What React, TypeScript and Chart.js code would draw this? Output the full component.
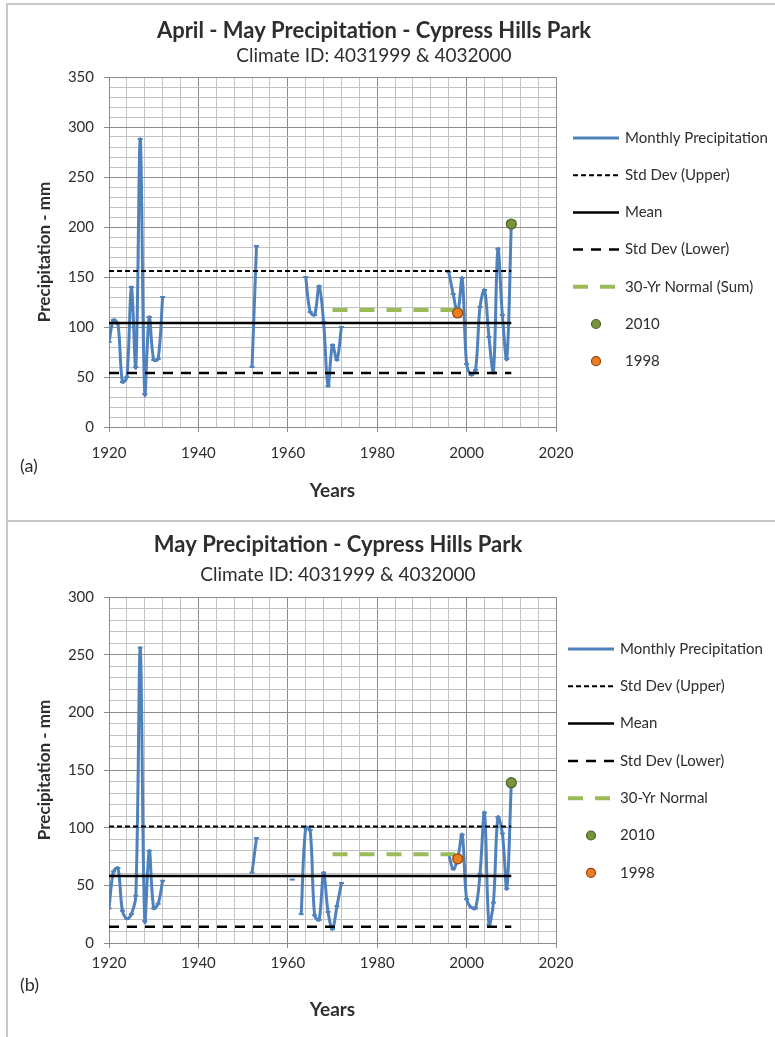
import React, { useEffect, useRef } from 'react';
import { Chart, registerables } from 'chart.js';

Chart.register(...registerables);

const FONT = 'Lato, "Open Sans", "DejaVu Sans", sans-serif';
const TEXT = '#2e2e2e';
const BLUE = '#4f81bd';
const GREEN_DASH = '#9bbb59';
const GRID_MAJOR = '#8c8c8c';
const GRID_MINOR = '#c2c2c2';

// x axis: labelled years and the minor grid step
const yearLabels = [1920, 1940, 1960, 1980, 2000, 2020];
const yearStep = 4;
const yearMin = 1920;
const yearMax = 2020;

// spans of the reference lines
const statYears = [1920, 2010];
const normalYears = [1970, 1998];
const highlightYears = [2010, 1998];

// (a) April - May totals, mm (null = no record, breaks the line)
const aprMayYears = [
  1920, 1921, 1922, 1923, 1924, 1925, 1926, 1927, 1928, 1929, 1930, 1931, 1932, 1933,
  1952, 1953, 1954,
  1964, 1965, 1966, 1967, 1968, 1969, 1970, 1971, 1972, 1973,
  1996, 1997, 1998, 1999, 2000, 2001, 2002, 2003, 2004, 2005, 2006, 2007, 2008, 2009, 2010,
];
const aprMayPrecip = [
  85, 107, 103, 45, 50, 140, 60, 288, 33, 110, 67, 68, 130, null,
  60, 181, null,
  150, 115, 112, 141, 105, 41, 82, 67, 100, null,
  155, 133, 114, 149, 63, 52, 57, 120, 137, 90, 55, 178, 112, 68, 203,
];
const aprMayUpper = 156;
const aprMayMean = 104;
const aprMayLower = 54;
const aprMayNormal = 117;
const aprMayTicks = [0, 50, 100, 150, 200, 250, 300, 350];

// (b) May totals, mm
const mayYears = [
  1920, 1921, 1922, 1923, 1924, 1925, 1926, 1927, 1928, 1929, 1930, 1931, 1932, 1933,
  1952, 1953, 1954,
  1961, 1962,
  1963, 1964, 1965, 1966, 1967, 1968, 1969, 1970, 1971, 1972, 1973,
  1996, 1997, 1998, 1999, 2000, 2001, 2002, 2003, 2004, 2005, 2006, 2007, 2008, 2009, 2010,
];
const mayPrecip = [
  30, 62, 65, 28, 21, 25, 41, 256, 19, 80, 30, 34, 54, null,
  61, 91, null,
  55, null,
  25, 100, 98, 24, 20, 61, 27, 12, 32, 52, null,
  77, 64, 73, 94, 38, 31, 30, 60, 113, 16, 35, 109, 95, 47, 139,
];
const mayUpper = 101;
const mayMean = 58;
const mayLower = 14;
const mayNormal = 77;
const mayTicks = [0, 50, 100, 150, 200, 250, 300];

const CANVAS_W = 775;
const PLOT_LEFT = 109;
const PLOT_RIGHT = 556;
const PAD_LEFT = 30;

type Panel = {
  title: string;
  subtitle: string;
  tag: string;
  normalLabel: string;
  years: number[];
  values: (number | null)[];
  upper: number;
  mean: number;
  lower: number;
  normal: number;
  yTicks: number[];
  height: number;
  plotTop: number;
  plotBottom: number;
  titleX: number;
  titleY: number;
  subtitleY: number;
  tagY: number;
  legendX: number;
  legendY: number;
  legendGap: number;
  xTickPad: number;
  yearsPad: number;
};

const panelA: Panel = {
  title: 'April - May Precipitation - Cypress Hills Park',
  subtitle: 'Climate ID: 4031999 & 4032000',
  tag: '(a)',
  normalLabel: '30-Yr Normal (Sum)',
  years: aprMayYears,
  values: aprMayPrecip,
  upper: aprMayUpper,
  mean: aprMayMean,
  lower: aprMayLower,
  normal: aprMayNormal,
  yTicks: aprMayTicks,
  height: 521,
  plotTop: 77,
  plotBottom: 427,
  titleX: 374,
  titleY: 31,
  subtitleY: 56,
  tagY: 466,
  legendX: 573,
  legendY: 138,
  legendGap: 37.2,
  xTickPad: 12,
  yearsPad: 19,
};

const panelB: Panel = {
  title: 'May Precipitation - Cypress Hills Park',
  subtitle: 'Climate ID: 4031999 & 4032000',
  tag: '(b)',
  normalLabel: '30-Yr Normal',
  years: mayYears,
  values: mayPrecip,
  upper: mayUpper,
  mean: mayMean,
  lower: mayLower,
  normal: mayNormal,
  yTicks: mayTicks,
  height: 516,
  plotTop: 76,
  plotBottom: 422,
  titleX: 338,
  titleY: 24,
  subtitleY: 54,
  tagY: 464,
  legendX: 568,
  legendY: 128,
  legendGap: 37.3,
  xTickPad: 6,
  yearsPad: 16,
};

// Titles, panel tag and the side legend, drawn after the chart
const decorPlugin = {
  id: 'panelDecor',
  afterDraw(chart: any, _args: any, o: any) {
    const ctx: CanvasRenderingContext2D = chart.ctx;
    ctx.save();
    ctx.fillStyle = TEXT;
    ctx.textBaseline = 'middle';
    ctx.textAlign = 'center';
    ctx.font = `bold 22px ${FONT}`;
    ctx.fillText(o.title, o.titleX, o.titleY);
    ctx.font = `19px ${FONT}`;
    ctx.fillText(o.subtitle, o.titleX, o.subtitleY);
    ctx.textAlign = 'left';
    ctx.font = `18px ${FONT}`;
    ctx.fillText(o.tag, 20, o.tagY);

    const lineLen = 46;
    chart.data.datasets.forEach((ds: any, i: number) => {
      const cy = o.legendY + i * o.legendGap;
      if (ds.showLine === false) {
        ctx.beginPath();
        ctx.arc(o.legendX + lineLen / 2, cy, 4.5, 0, Math.PI * 2);
        ctx.fillStyle = ds.pointBackgroundColor;
        ctx.fill();
        ctx.lineWidth = 1.2;
        ctx.strokeStyle = ds.pointBorderColor;
        ctx.stroke();
      } else {
        ctx.beginPath();
        ctx.setLineDash(ds.borderDash || []);
        ctx.lineWidth = ds.borderWidth;
        ctx.strokeStyle = ds.borderColor;
        ctx.moveTo(o.legendX, cy);
        ctx.lineTo(o.legendX + lineLen, cy);
        ctx.stroke();
        ctx.setLineDash([]);
      }
      ctx.fillStyle = TEXT;
      ctx.font = `15px ${FONT}`;
      ctx.fillText(ds.label, o.legendX + lineLen + 6, cy);
    });
    ctx.restore();
  },
};

function buildConfig(p: Panel): any {
  const series = p.years.map((x, i) => ({ x, y: p.values[i] }));
  const flat = (v: number, span: number[]) => span.map((x) => ({ x, y: v }));
  const at = (yr: number) => [{ x: yr, y: p.values[p.years.indexOf(yr)] }];
  const isMajorX = (v: number) => yearLabels.includes(v);
  const isMajorY = (v: number) => p.yTicks.includes(v);
  const yMax = p.yTicks[p.yTicks.length - 1];

  const datasets = [
    {
      label: 'Monthly Precipitation',
      data: series,
      borderColor: BLUE,
      backgroundColor: BLUE,
      borderWidth: 3,
      tension: 0.35,
      spanGaps: false,
      pointStyle: 'line',
      pointRadius: 2.5,
      pointBorderWidth: 2,
      pointBorderColor: BLUE,
      order: 6,
    },
    {
      label: 'Std Dev (Upper)',
      data: flat(p.upper, statYears),
      borderColor: '#000',
      borderWidth: 2,
      borderDash: [5, 3],
      pointRadius: 0,
      order: 5,
    },
    {
      label: 'Mean',
      data: flat(p.mean, statYears),
      borderColor: '#000',
      borderWidth: 2.5,
      pointRadius: 0,
      order: 4,
    },
    {
      label: 'Std Dev (Lower)',
      data: flat(p.lower, statYears),
      borderColor: '#000',
      borderWidth: 2.5,
      borderDash: [10, 8],
      pointRadius: 0,
      order: 3,
    },
    {
      label: p.normalLabel,
      data: flat(p.normal, normalYears),
      borderColor: GREEN_DASH,
      borderWidth: 4,
      borderDash: [15, 12],
      pointRadius: 0,
      order: 2,
    },
    {
      label: String(highlightYears[0]),
      data: at(highlightYears[0]),
      showLine: false,
      pointRadius: 5,
      pointBackgroundColor: '#77933c',
      pointBorderColor: '#4f6228',
      pointBorderWidth: 1.2,
      order: 1,
    },
    {
      label: String(highlightYears[1]),
      data: at(highlightYears[1]),
      showLine: false,
      pointRadius: 5,
      pointBackgroundColor: '#ee7d22',
      pointBorderColor: '#8f4510',
      pointBorderWidth: 1.2,
      order: 0,
    },
  ];

  const titleFont = (size: number) => ({ family: FONT, size, weight: 'bold' as const });

  return {
    type: 'line',
    data: { datasets },
    plugins: [decorPlugin],
    options: {
      responsive: false,
      animation: false,
      events: [],
      layout: {
        padding: { top: p.plotTop, right: CANVAS_W - PLOT_RIGHT, left: PAD_LEFT, bottom: 0 },
      },
      plugins: {
        legend: { display: false },
        tooltip: { enabled: false },
        panelDecor: {
          title: p.title,
          subtitle: p.subtitle,
          tag: p.tag,
          titleX: p.titleX,
          titleY: p.titleY,
          subtitleY: p.subtitleY,
          tagY: p.tagY,
          legendX: p.legendX,
          legendY: p.legendY,
          legendGap: p.legendGap,
        },
      },
      scales: {
        x: {
          type: 'linear',
          min: yearMin,
          max: yearMax,
          afterBuildTicks: (scale: any) => {
            const ticks = [];
            for (let v = yearMin; v <= yearMax; v += yearStep) ticks.push({ value: v });
            scale.ticks = ticks;
          },
          afterFit: (scale: any) => {
            scale.height = p.height - p.plotBottom;
          },
          grid: {
            color: (c: any) => (c.tick && isMajorX(c.tick.value) ? GRID_MAJOR : GRID_MINOR),
            tickColor: (c: any) => (c.tick && isMajorX(c.tick.value) ? GRID_MAJOR : 'rgba(0,0,0,0)'),
            tickLength: 5,
            lineWidth: 1,
          },
          border: { color: GRID_MAJOR, width: 1 },
          ticks: {
            autoSkip: false,
            maxRotation: 0,
            padding: p.xTickPad,
            color: TEXT,
            font: { family: FONT, size: 15 },
            callback: (v: any) => (isMajorX(v) ? String(v) : ''),
          },
          title: {
            display: true,
            text: 'Years',
            color: TEXT,
            font: titleFont(19),
            padding: { top: 0, bottom: p.yearsPad },
          },
        },
        y: {
          type: 'linear',
          min: 0,
          max: yMax,
          afterBuildTicks: (scale: any) => {
            const ticks = [];
            for (let v = 0; v <= yMax; v += 10) ticks.push({ value: v });
            scale.ticks = ticks;
          },
          afterFit: (scale: any) => {
            scale.width = PLOT_LEFT - PAD_LEFT;
          },
          grid: {
            color: (c: any) => (c.tick && isMajorY(c.tick.value) ? GRID_MAJOR : GRID_MINOR),
            tickColor: (c: any) => (c.tick && isMajorY(c.tick.value) ? GRID_MAJOR : 'rgba(0,0,0,0)'),
            tickLength: 5,
            lineWidth: 1,
          },
          border: { color: GRID_MAJOR, width: 1 },
          ticks: {
            autoSkip: false,
            padding: 10,
            color: TEXT,
            font: { family: FONT, size: 15 },
            callback: (v: any) => (isMajorY(v) ? String(v) : ''),
          },
          title: {
            display: true,
            text: 'Precipitation - mm',
            color: TEXT,
            font: titleFont(17),
            padding: { top: 4, bottom: 0 },
          },
        },
      },
    },
  };
}

function PanelChart({ panel, top }: { panel: Panel; top: number }) {
  const ref = useRef<HTMLCanvasElement | null>(null);
  useEffect(() => {
    if (!ref.current) return;
    const chart = new Chart(ref.current, buildConfig(panel));
    return () => chart.destroy();
  }, [panel]);
  return (
    <canvas
      ref={ref}
      width={CANVAS_W}
      height={panel.height}
      style={{ position: 'absolute', left: 0, top, width: CANVAS_W, height: panel.height }}
    />
  );
}

export default function App() {
  return (
    <div
      style={{
        position: 'absolute',
        left: 0,
        top: 0,
        width: 775,
        height: 1037,
        overflow: 'hidden',
        background: '#fff',
      }}
    >
      <div
        style={{
          position: 'absolute',
          left: 6,
          top: 3,
          width: 800,
          height: 519,
          border: '2px solid #c8c8c8',
          boxSizing: 'border-box',
        }}
      />
      <div
        style={{
          position: 'absolute',
          left: 6,
          top: 520,
          width: 800,
          height: 600,
          borderLeft: '2px solid #c8c8c8',
          borderTop: '2px solid #c8c8c8',
          boxSizing: 'border-box',
        }}
      />
      <PanelChart panel={panelA} top={0} />
      <PanelChart panel={panelB} top={521} />
    </div>
  );
}
